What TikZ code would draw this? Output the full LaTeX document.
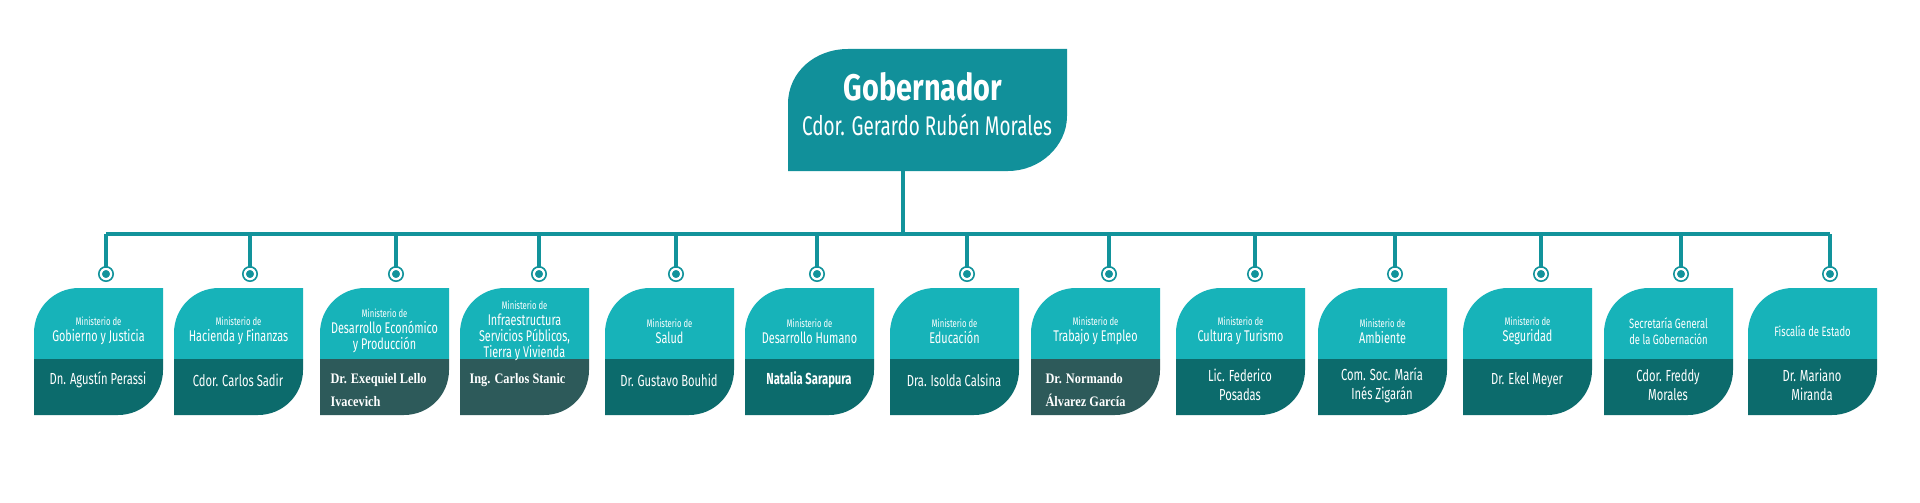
\documentclass[tikz,border=0pt]{standalone}
\usepackage{fontspec}
\setmainfont{Fira Sans}[FakeStretch=0.78]
\newfontfamily\narrowf{Fira Sans}[FakeStretch=0.7]
\newfontfamily\serifc{Liberation Serif}[FakeStretch=0.85]
\definecolor{topc}{HTML}{17B3B9}
\definecolor{botc}{HTML}{0C6B6C}
\definecolor{grayc}{HTML}{2D5A5A}
\definecolor{gobc}{HTML}{11909A}
\definecolor{linec}{HTML}{12939B}
\tikzset{
  conn/.style={draw=linec,line width=3.5pt},
  dot/.style={circle,fill=linec,draw=white,line width=1.6pt,minimum size=10pt,inner sep=0pt,
    append after command={\pgfextra{\draw[linec,line width=1.6pt] (\tikzlastnode.center) circle[radius=7.2pt];}}},
  ttl/.style={text=white,align=center,font=\narrowf\fontsize{15.5}{16}\selectfont},
  nm/.style={text=white,align=center,font=\narrowf\fontsize{16}{19}\selectfont},
  nms/.style={text=white,align=left,anchor=west,font=\serifc\bfseries\fontsize{14.5}{23}\selectfont},
}
\newcommand\mini{\fontsize{11}{12}\selectfont}
% #1 name, #2 left, #3 dot x, #4 title, #5 name text, #6 bottom colour
\newcommand\orgbox[6]{%
  \fill[topc] (#2,359) -- (#2,333) .. controls (#2,308) and ({#2+20},288) .. ({#2+45},288) -- ({#2+129},288) -- ({#2+129},359) -- cycle;
  \fill[#6] (#2,359) -- (#2,415) -- ({#2+84},415) .. controls ({#2+109},415) and ({#2+129},395) .. ({#2+129},370) -- ({#2+129},359) -- cycle;
  \node[ttl] (t#1) at ({#2+64.5},331) {#4};
  \node[dot] (c#1) at (#3,274) {};
  \draw[conn] (c#1) -- (c#1 |- bus);
  #5
}
\begin{document}
\begin{tikzpicture}[x=1pt,y=-1pt]
\useasboundingbox (0,0) rectangle (1920,503);
\fill[white] (0,0) rectangle (1920,503);
\coordinate (bus) at (903,234);
\coordinate (busL) at (106,234);
\coordinate (busR) at (1830,234);
\draw[conn] (busL) -- (busR);
\fill[gobc] (788,171) -- (788,104) .. controls (788,72) and (815,49) .. (848,49) -- (1067,49) -- (1067,116) .. controls (1067,146) and (1040,171) .. (1008,171) -- cycle;
\node[text=white,font=\bfseries\fontsize{37}{37}\selectfont] (gob) at (923,87) {Gobernador};
\node[text=white,font=\narrowf\fontsize{27}{27}\selectfont] (gobname) at (927,125) {Cdor. Gerardo Rubén Morales};
\coordinate (gobs) at (903,171);
\draw[conn] (gobs) -- (bus);

\orgbox{1}{34}{106}{{\mini Ministerio de}\\Gobierno y Justicia}{\node[nm] (n1) at (98,380) {Dn. Agustín Perassi};}{botc}
\orgbox{2}{174}{250}{{\mini Ministerio de}\\Hacienda y Finanzas}{\node[nm] (n2) at (238,380) {Cdor. Carlos Sadir};}{botc}
\orgbox{3}{320}{396}{{\mini Ministerio de}\\Desarrollo Económico\\y Producción}{\node[nms] (n3) at (327,390) {Dr. Exequiel Lello\\Ivacevich};}{grayc}
\orgbox{4}{460}{539}{{\mini Ministerio de}\\Infraestructura\\Servicios Públicos,\\Tierra y Vivienda}{\node[nms] (n4) at (466,380) {Ing. Carlos Stanic};}{grayc}
\orgbox{5}{605}{676}{{\mini Ministerio de}\\Salud}{\node[nm] (n5) at (669,380) {Dr. Gustavo Bouhid};}{botc}
\orgbox{6}{745}{817}{{\mini Ministerio de}\\Desarrollo Humano}{\node[nm,font=\narrowf\bfseries\fontsize{16}{19}\selectfont] (n6) at (809,380) {Natalia Sarapura};}{botc}
\orgbox{7}{890}{967}{{\mini Ministerio de}\\Educación}{\node[nm] (n7) at (954,380) {Dra. Isolda Calsina};}{botc}
\orgbox{8}{1031}{1109}{{\mini Ministerio de}\\Trabajo y Empleo}{\node[nms] (n8) at (1042,390) {Dr. Normando\\Álvarez García};}{grayc}
\orgbox{9}{1176}{1255}{{\mini Ministerio de}\\Cultura y Turismo}{\node[nm] (n9) at (1240,385) {Lic. Federico\\Posadas};}{botc}
\orgbox{10}{1318}{1395}{{\mini Ministerio de}\\Ambiente}{\node[nm] (n10) at (1382,385) {Com. Soc. María\\Inés Zigarán};}{botc}
\orgbox{11}{1463}{1541}{{\mini Ministerio de}\\Seguridad}{\node[nm] (n11) at (1527,380) {Dr. Ekel Meyer};}{botc}
\orgbox{12}{1604}{1681}{\fontsize{13.5}{15}\selectfont Secretaría General\\\fontsize{13.5}{15}\selectfont de la Gobernación}{\node[nm] (n12) at (1668,385) {Cdor. Freddy\\Morales};}{botc}
\orgbox{13}{1748}{1830}{\fontsize{13.5}{15}\selectfont Fiscalía de Estado}{\node[nm] (n13) at (1812,385) {Dr. Mariano\\Miranda};}{botc}
\end{tikzpicture}
\end{document}
